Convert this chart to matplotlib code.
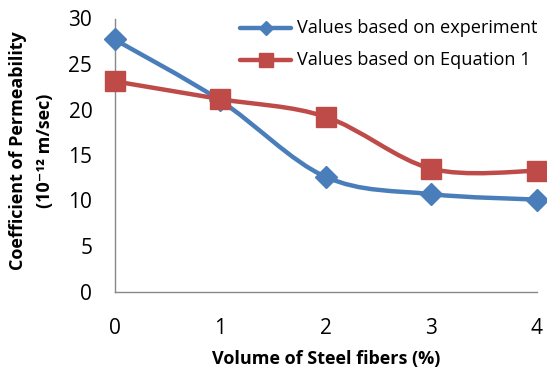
import numpy as np
import matplotlib
matplotlib.use("Agg")
import matplotlib.pyplot as plt
from matplotlib.path import Path
from matplotlib.patches import PathPatch
from matplotlib.lines import Line2D

plt.rcParams['font.family'] = ['Open Sans', 'DejaVu Sans']

fiber_volume = [0, 1, 2, 3, 4]
experiment = [27.7, 21.0, 12.6, 10.7, 10.1]
equation_1 = [23.1, 21.15, 19.2, 13.5, 13.25]
series_labels = ["Values based on experiment", "Values based on Equation 1"]
y_ticks = [0, 5, 10, 15, 20, 25, 30]

BLUE = "#4A7EBB"
RED = "#BE4B48"


def smooth_path(xs, ys):
    """Cubic Bezier path through the points, Catmull-Rom style tangents."""
    pts = np.column_stack([xs, ys]).astype(float)
    n = len(pts)
    verts = [pts[0]]
    codes = [Path.MOVETO]
    for i in range(n - 1):
        p0 = pts[i - 1] if i > 0 else pts[i]
        p1 = pts[i]
        p2 = pts[i + 1]
        p3 = pts[i + 2] if i + 2 < n else pts[i + 1]
        c1 = p1 + (p2 - p0) / 6.0
        c2 = p2 - (p3 - p1) / 6.0
        verts += [c1, c2, p2]
        codes += [Path.CURVE4] * 3
    return Path(verts, codes)


W, H = 547, 374
fig = plt.figure(figsize=(W / 100, H / 100), dpi=100)
ax = fig.add_axes([114.5 / W, 82.5 / H, 422.2 / W, 273.0 / H])

styles = [(experiment, BLUE, "D", 11, 7),
          (equation_1, RED, "s", 14, 10)]
for ys, color, marker, ms, _ in styles:
    ax.add_patch(PathPatch(smooth_path(fiber_volume, ys), facecolor="none",
                           edgecolor=color, lw=3.2, capstyle="round", zorder=2))
    ax.plot(fiber_volume, ys, linestyle="none", marker=marker, ms=ms,
            color=color, mec=color, zorder=3, clip_on=False)

ax.set_xlim(0, 4)
ax.set_ylim(0, 30)
ax.set_xticks(fiber_volume)
ax.set_yticks(y_ticks)
ax.tick_params(length=0, labelsize=15, colors="black")
ax.tick_params(axis="y", pad=16)
ax.tick_params(axis="x", pad=19)
for s in ("top", "right"):
    ax.spines[s].set_visible(False)
for s in ("left", "bottom"):
    ax.spines[s].set_color("#888888")
    ax.spines[s].set_linewidth(1.0)

fig.text(326 / W, 1 - 359 / H, "Volume of Steel fibers (%)", ha="center",
         va="center", fontsize=13, fontweight="bold")
fig.text(18.5 / W, 1 - 151 / H, "Coefficient of Permeability", rotation=90,
         ha="center", va="center", fontsize=13, fontweight="bold")
fig.text(45 / W, 1 - 151 / H, "(10\u207b\u00b9\u00b2 m/sec)", rotation=90,
         ha="center", va="center", fontsize=13, fontweight="bold")

# legend, drawn row by row in figure pixels
row_y = [28, 60]
for (ys, color, marker, _, lms), label, y in zip(styles, series_labels, row_y):
    fy = 1 - y / H
    fig.add_artist(Line2D([240 / W, 291 / W], [fy, fy], color=color, lw=3.2,
                          solid_capstyle="round", transform=fig.transFigure))
    fig.add_artist(Line2D([265.5 / W], [fy], color=color, marker=marker, ms=lms,
                          linestyle="none", transform=fig.transFigure))
    fig.text(297 / W, fy, label, ha="left", va="center", fontsize=13.1)

fig.savefig("out.png", dpi=100)
